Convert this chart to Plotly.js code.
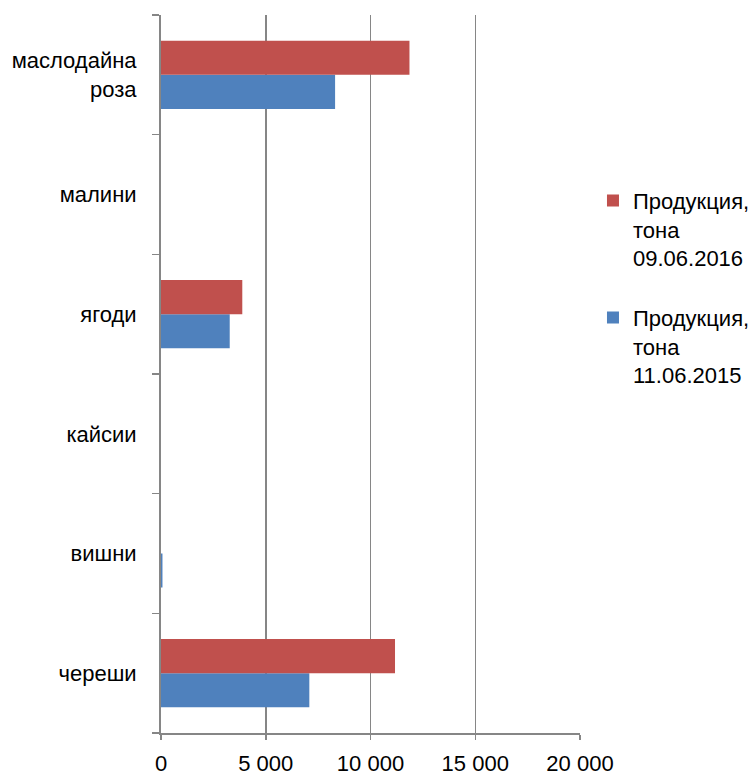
<!DOCTYPE html>
<html>
<head>
<meta charset="utf-8">
<script src="https://cdn.plot.ly/plotly-3.0.1.min.js"></script>
<style>html,body{margin:0;padding:0;background:#fff;}#chart{width:749px;height:775px;}</style>
</head>
<body>
<div id="chart"></div>
<script>
const categories = ['череши', 'вишни', 'кайсии', 'ягоди', 'малини', 'маслодайна<br>роза'];
const values2015 = [7080, 70, 0, 3280, 0, 8310];
const values2016 = [11170, 0, 0, 3880, 0, 11860];
const name2015 = 'Продукция,<br>тона<br>11.06.2015';
const name2016 = 'Продукция,<br>тона<br>09.06.2016';
const xTickVals = [0, 5000, 10000, 15000, 20000];
const xTickText = ['0', '5 000', '10 000', '15 000', '20 000'];

const gray = '#868686';
const fam = 'Liberation Sans, Arial, sans-serif';
const font = {family: fam, size: 22, color: '#000'};

const data = [
  {type: 'bar', orientation: 'h', y: categories, x: values2015, name: name2015,
   legendgroup: 'g2015', legendrank: 2, marker: {color: '#4F81BD'}, hoverinfo: 'x'},
  {type: 'bar', orientation: 'h', y: categories, x: values2016, name: name2016,
   legendgroup: 'g2016', legendrank: 1, marker: {color: '#C0504D'}, hoverinfo: 'x'}
];

const layout = {
  width: 749, height: 775,
  margin: {l: 161, r: 169, t: 15, b: 42, autoexpand: false},
  font: font,
  paper_bgcolor: '#fff', plot_bgcolor: '#fff',
  barmode: 'group', bargap: 0.43, bargroupgap: 0,
  showlegend: true,
  legend: {xref: 'container', yref: 'container', x: 0.7917, y: 0.768,
           xanchor: 'left', yanchor: 'top', traceorder: 'grouped',
           valign: 'top', font: font, tracegroupgap: 28, itemwidth: 30},
  xaxis: {range: [0, 20000], tickvals: xTickVals, ticktext: xTickText,
          showgrid: true, gridcolor: gray, gridwidth: 1.5, zeroline: false,
          showline: true, linecolor: gray, linewidth: 1.5,
          ticks: 'outside', ticklen: 5, tickcolor: gray, tickwidth: 1.5,
          tickfont: font, ticklabelstandoff: 5, fixedrange: true},
  yaxis: {type: 'category', showgrid: false, zeroline: false,
          showline: true, linecolor: gray, linewidth: 2,
          ticks: 'outside', tickson: 'boundaries', ticklen: 7, tickcolor: gray, tickwidth: 1.5,
          tickfont: font, ticklabelstandoff: 18, fixedrange: true}
};

Plotly.newPlot('chart', data, layout, {displayModeBar: false, staticPlot: true});
</script>
</body>
</html>
